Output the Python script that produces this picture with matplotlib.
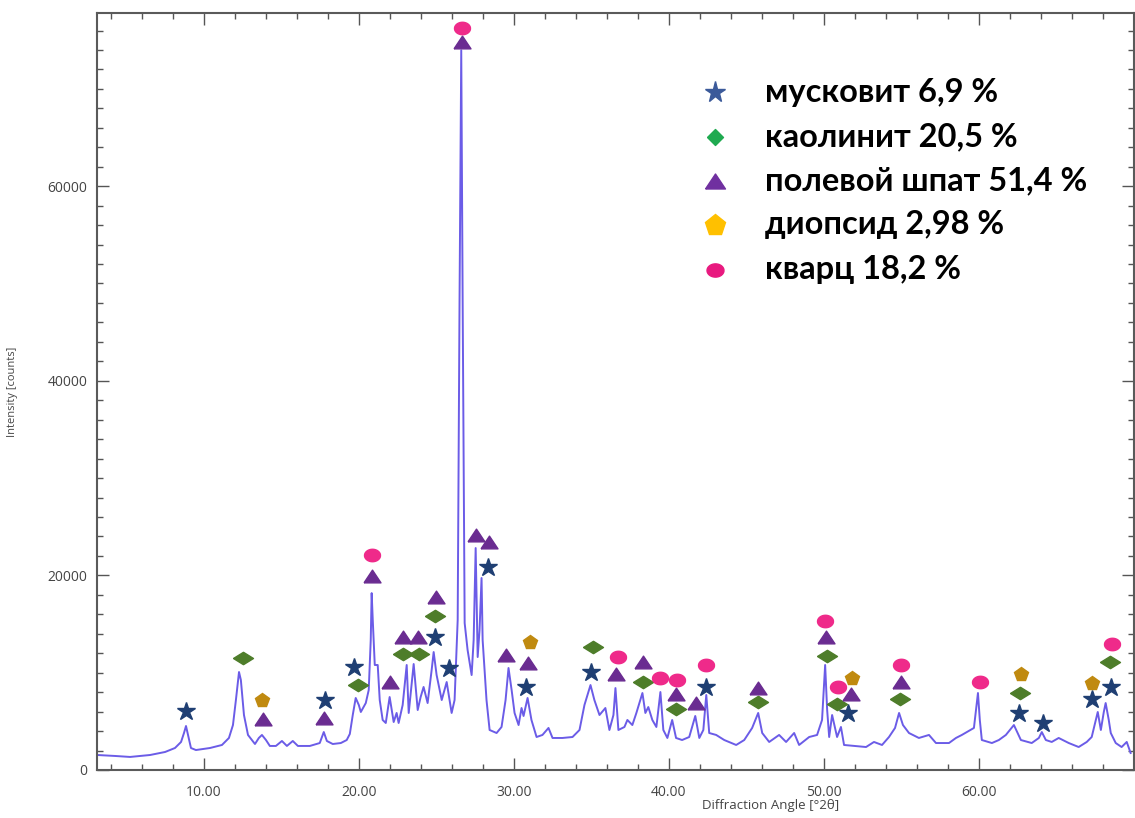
import numpy as np
import matplotlib
matplotlib.use("Agg")
import matplotlib.pyplot as plt
from matplotlib.path import Path

# diffractogram trace, 2theta (deg) vs counts
angle = [3.11, 4.27, 5.23, 6.52, 7.49, 8.13, 8.52, 8.71, 8.84, 8.97, 9.16, 9.48,
         10.39, 11.16, 11.61, 11.87, 12.06, 12.26, 12.38, 12.58, 12.84, 13.29,
         13.54, 13.74, 14.0, 14.25, 14.64, 15.03, 15.35, 15.73, 16.06, 16.83,
         17.47, 17.73, 17.93, 18.31, 18.83, 19.21, 19.41, 19.60, 19.79, 19.99,
         20.12, 20.44, 20.63, 20.76, 20.82, 20.89, 21.02, 21.21, 21.34, 21.53,
         21.73, 21.98, 22.24, 22.43, 22.56, 22.82, 23.08, 23.21, 23.53, 23.79,
         23.98, 24.17, 24.43, 24.69, 24.82, 25.01, 25.34, 25.66, 25.85, 25.98,
         26.17, 26.37, 26.49, 26.60, 26.69, 26.82, 27.01, 27.27, 27.40, 27.53,
         27.66, 27.78, 27.91, 27.98, 28.23, 28.43, 28.88, 29.20, 29.46, 29.65,
         29.85, 30.04, 30.30, 30.49, 30.62, 30.88, 31.13, 31.46, 31.84, 32.23,
         32.49, 33.13, 33.78, 34.23, 34.55, 34.94, 35.19, 35.52, 35.90, 36.16,
         36.42, 36.55, 36.74, 37.13, 37.32, 37.64, 37.90, 38.29, 38.48, 38.67,
         38.93, 39.19, 39.45, 39.64, 39.90, 40.21, 40.46, 40.85, 41.31, 41.70,
         41.96, 42.22, 42.41, 42.60, 43.05, 43.57, 44.34, 44.86, 45.37, 45.76,
         46.02, 46.47, 47.11, 47.56, 48.08, 48.40, 49.05, 49.56, 49.88, 50.08,
         50.21, 50.34, 50.53, 50.72, 50.85, 51.10, 51.30, 51.95, 52.72, 53.23,
         53.75, 54.20, 54.59, 54.85, 55.10, 55.49, 56.13, 56.78, 57.23, 58.07,
         58.52, 58.90, 59.68, 59.94, 60.06, 60.19, 60.84, 61.29, 61.74, 62.26,
         62.71, 63.41, 63.87, 64.06, 64.32, 64.70, 65.15, 65.80, 66.44, 66.96,
         67.28, 67.47, 67.67, 67.87, 68.06, 68.18, 68.38, 68.51, 68.83, 69.21,
         69.54, 69.79]
intensity = [1540, 1440, 1340, 1540, 1850, 2260, 2880, 3800, 4520, 3600, 2260, 2050,
             2260, 2570, 3290, 4620, 7190, 10070, 9250, 5650, 3600, 2670,
             3290, 3600, 3080, 2470, 2470, 2980, 2470, 2980, 2470, 2470,
             2770, 3900, 2980, 2670, 2770, 3080, 3700, 5650, 7400, 6680,
             5960, 6880, 8220, 13360, 18180, 15410, 10790, 10790, 7190, 5140,
             4830, 7500, 4930, 5860, 4830, 6680, 10790, 5860, 10890, 6160,
             7500, 8530, 6880, 10270, 12120, 9760, 7190, 9040, 7190, 5860,
             7190, 15410, 48290, 73970, 48290, 15100, 12330, 9760, 13360, 22810,
             11610, 14380, 19730, 13360, 7190, 4110, 3800, 4420, 7190, 10480,
             8220, 5860, 4620, 6370, 5550, 7400, 5140, 3390, 3600, 4320,
             3290, 3290, 3390, 4110, 6680, 8730, 7190, 5650, 6370, 4110,
             5650, 8420, 4110, 4420, 5140, 4620, 5860, 7910, 5860, 6470,
             5140, 4420, 8010, 4110, 3290, 5140, 3290, 3080, 3390, 5550,
             3290, 4110, 7710, 3800, 3600, 3080, 2570, 3080, 4320, 5860,
             3800, 2880, 3600, 2880, 3800, 2570, 3390, 3600, 5140, 10790,
             6160, 3390, 5650, 4320, 3390, 4420, 2570, 2470, 2360, 2880,
             2570, 3390, 4320, 5860, 4620, 3800, 3290, 3600, 2770, 2770,
             3290, 3600, 4320, 7910, 5140, 3080, 2770, 3080, 3600, 4620,
             3080, 2770, 3290, 3900, 3080, 2880, 3290, 2770, 2360, 2880,
             3390, 4620, 5960, 4110, 5960, 6880, 5140, 3800, 2770, 2360,
             2880, 1750]

# phase marks placed over the identified reflections
muscovite_x = [8.84, 17.80, 19.66, 24.88, 25.79, 28.30, 30.81, 34.94, 42.41,
               51.56, 62.58, 64.12, 67.28, 68.51]
muscovite_y = [6060, 7190, 10580, 13660, 10480, 20860, 8530, 10070, 8530,
               5860, 5860, 4830, 7290, 8530]
kaolinite_x = [12.51, 19.92, 22.82, 23.85, 24.88, 35.13, 38.35, 40.48, 45.76,
               50.21, 50.85, 54.91, 62.64, 68.44]
kaolinite_y = [11510, 8730, 11920, 11920, 15820, 12640, 9040, 6270, 6990,
               11710, 6780, 7290, 7910, 11100]
feldspar_x = [13.80, 17.73, 20.82, 21.98, 22.82, 23.79, 24.95, 26.62, 27.53,
              28.36, 29.46, 30.88, 36.61, 38.35, 40.48, 41.77, 45.76, 50.14,
              51.75, 54.97]
feldspar_y = [5240, 5340, 19930, 9040, 13660, 13660, 17770, 74800, 24140,
              23420, 11820, 10990, 9860, 11100, 7810, 6880, 8420, 13660,
              7810, 9040]
diopside_x = [13.74, 31.01, 51.82, 62.71, 67.28]
diopside_y = [7190, 13150, 9450, 9860, 8940]
quartz_x = [20.82, 26.62, 36.74, 39.45, 40.54, 42.41, 50.08, 50.91, 54.97,
            60.06, 68.57]
quartz_y = [22090, 76230, 11610, 9450, 9250, 10790, 15310, 8530, 10790,
            9040, 12950]

legend_labels = ["мусковит 6,9 %", "каолинит 20,5 %", "полевой шпат 51,4 %",
                 "диопсид 2,98 %", "кварц 18,2 %"]

diamond = Path([(-1, 0), (0, 0.62), (1, 0), (0, -0.62), (-1, 0)])
square_diamond = Path([(-1, 0), (0, 1), (1, 0), (0, -1), (-1, 0)])
triangle = Path([(-1, -0.75), (1, -0.75), (0, 0.75), (-1, -0.75)])
t = np.linspace(0, 2 * np.pi, 40)
oval = Path(np.column_stack([np.cos(t), 0.78 * np.sin(t)]))

PX = 1.39  # pixels per point at dpi 100

fig = plt.figure(figsize=(11.35, 8.18), dpi=100)
ax = fig.add_axes([0.0855, 0.0587, 0.9135, 0.9254])

ax.plot(angle, intensity, color="#6b5ce7", lw=1.4, zorder=2)

phases = [
    (muscovite_x, muscovite_y, "*", 19, "#1f3f73"),
    (kaolinite_x, kaolinite_y, diamond, 20, "#4e7d2a"),
    (feldspar_x, feldspar_y, triangle, 17, "#6a2c91"),
    (diopside_x, diopside_y, "p", 15, "#c08a10"),
    (quartz_x, quartz_y, oval, 16, "#ef2a8a"),
]
for xs, ys, mk, ms, col in phases:
    ax.plot(xs, ys, ls="none", marker=mk, ms=ms / PX, color=col,
            mec=col, zorder=3, clip_on=False)

# legend drawn by hand to keep the big bold labels
leg_marks = [("*", 22, "#3b5a9a"), (square_diamond, 16, "#1faa50"),
             (triangle, 20, "#7030a0"), ("p", 22, "#ffc000"), (oval, 17, "#e8197f")]
row_y = [0.895, 0.836, 0.778, 0.720, 0.661]
for (mk, ms, col), lab, yy in zip(leg_marks, legend_labels, row_y):
    ax.plot([0.596], [yy], marker=mk, ms=ms / PX, color=col, mec=col,
            transform=ax.transAxes, clip_on=False, zorder=4)
    ax.text(0.644, yy, lab, transform=ax.transAxes, fontsize=23.5,
            fontweight="bold", family="Lato", va="center", ha="left",
            color="black")

ax.set_xlim(3.1, 70.0)
ax.set_ylim(0, 77800)
ax.set_xticks([10, 20, 30, 40, 50, 60])
ax.set_xticklabels(["10.00", "20.00", "30.00", "40.00", "50.00", "60.00"])
ax.set_xticks(np.arange(4, 70, 2), minor=True)
ax.set_yticks([0, 20000, 40000, 60000])
ax.set_yticklabels(["0", "20000", "40000", "60000"])
ax.set_yticks(np.arange(0, 78000, 2000), minor=True)

ax.tick_params(which="both", direction="in", top=True, right=True,
               color="#555555", width=1.0)
ax.tick_params(which="major", length=8.5)
ax.tick_params(which="minor", length=4.5)
ax.tick_params(axis="x", which="major", pad=11)
ax.tick_params(axis="y", which="major", pad=7)
for lbl in ax.get_xticklabels() + ax.get_yticklabels():
    lbl.set_family("Open Sans")
    lbl.set_fontsize(10)
    lbl.set_color("#444444")

for sp in ax.spines.values():
    sp.set_color("#5a5a5a")
    sp.set_linewidth(1.5)

ax.set_ylabel("Intensity [counts]", fontsize=8, family="Open Sans", color="#444444")
ax.yaxis.set_label_coords(-0.076, 0.5)
ax.set_xlabel("Diffraction Angle [°2θ]", fontsize=9.5, family="Open Sans",
              color="#444444")
ax.xaxis.set_label_coords(0.65, -0.038)

fig.savefig("out.png", dpi=100)
